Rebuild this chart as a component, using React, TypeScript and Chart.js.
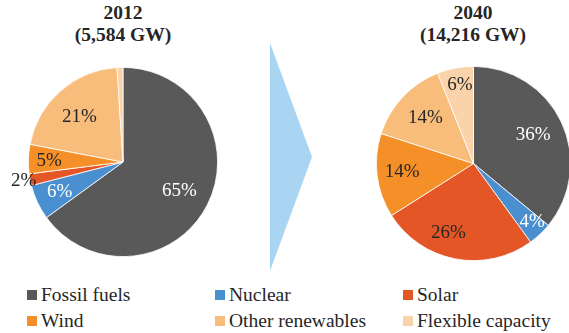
import React, { useEffect, useRef } from "react";
import { Chart, registerables } from "chart.js";

Chart.register(...registerables);

// Capacity mix by source, shares in percent
const categories = ["Fossil fuels", "Nuclear", "Solar", "Wind", "Other renewables", "Flexible capacity"];
const colors = ["#595959", "#4a8fd0", "#e55627", "#f59028", "#f8bc7b", "#fad3ab"];
const mix2012 = [65, 6, 2, 5, 21, 1];
const mix2040 = [36, 4, 26, 14, 14, 6];
const titles2012 = ["2012", "(5,584 GW)"];
const titles2040 = ["2040", "(14,216 GW)"];

// per-slice label placement: [radius fraction, angle shift in degrees, colour] (null = no label)
type LabelSpec = [number, number, string] | null;
const labels2012: LabelSpec[] = [
  [0.67, 0, "#ffffff"],
  [0.74, 0, "#ffffff"],
  [1.07, 0, "#262626"],
  [0.78, -1, "#262626"],
  [0.66, -3, "#262626"],
  null,
];
const labels2040: LabelSpec[] = [
  [0.68, 0, "#ffffff"],
  [0.85, -2, "#ffffff"],
  [0.76, 9, "#262626"],
  [0.74, 0, "#262626"],
  [0.68, 0, "#262626"],
  [0.82, 1, "#262626"],
];

const SERIF = "'Liberation Serif', 'Times New Roman', serif";
const PAD = 20;

function PieChart({ values, specs, cx, cy, size }: { values: number[]; specs: LabelSpec[]; cx: number; cy: number; size: number }) {
  const ref = useRef<HTMLCanvasElement | null>(null);
  const full = size + PAD * 2;
  useEffect(() => {
    if (!ref.current) return;
    const labelPlugin = {
      id: "sliceLabels",
      afterDatasetsDraw(chart: any) {
        const ctx = chart.ctx;
        const meta = chart.getDatasetMeta(0);
        ctx.save();
        ctx.font = `19px ${SERIF}`;
        ctx.textAlign = "center";
        ctx.textBaseline = "middle";
        meta.data.forEach((arc: any, i: number) => {
          const spec = specs[i];
          if (!spec) return;
          const [frac, shift, color] = spec;
          const mid = (arc.startAngle + arc.endAngle) / 2 + (shift * Math.PI) / 180;
          const r = arc.outerRadius * frac;
          ctx.fillStyle = color;
          ctx.fillText(`${values[i]}%`, arc.x + Math.cos(mid) * r, arc.y + Math.sin(mid) * r);
        });
        ctx.restore();
      },
    };
    const chart = new Chart(ref.current, {
      type: "pie",
      data: {
        labels: categories,
        datasets: [
          {
            data: values,
            backgroundColor: colors,
            borderColor: "#ffffff",
            borderWidth: 0.8,
          },
        ],
      },
      options: {
        animation: false,
        responsive: false,
        maintainAspectRatio: false,
        layout: { padding: PAD },
        plugins: { legend: { display: false }, tooltip: { enabled: false } },
      },
      plugins: [labelPlugin],
    });
    return () => chart.destroy();
  }, []);
  return (
    <canvas
      ref={ref}
      width={full}
      height={full}
      style={{ position: "absolute", left: cx - full / 2, top: cy - full / 2, width: full, height: full }}
    />
  );
}

function Title({ lines, cx }: { lines: string[]; cx: number }) {
  return (
    <div
      style={{
        position: "absolute",
        left: cx - 100,
        top: 2,
        width: 200,
        textAlign: "center",
        fontFamily: SERIF,
        fontWeight: "bold",
        fontSize: 19.5,
        lineHeight: "22px",
        color: "#262626",
      }}
    >
      {lines.map((l) => (
        <div key={l}>{l}</div>
      ))}
    </div>
  );
}

const legendCols = [27, 215, 403];
const legendRows = [295, 321];

export default function App() {
  return (
    <div style={{ position: "fixed", left: 0, top: 0, width: 569, height: 333, background: "#ffffff", overflow: "hidden" }}>
      <Title lines={titles2012} cx={123} />
      <Title lines={titles2040} cx={473} />
      <svg style={{ position: "absolute", left: 0, top: 0 }} width={569} height={333}>
        <polygon points="270,43 312,157 270,271" fill="#a9d5f2" />
      </svg>
      <PieChart values={mix2012} specs={labels2012} cx={123} cy={162} size={190} />
      <PieChart values={mix2040} specs={labels2040} cx={473.5} cy={163.5} size={195} />
      {categories.map((c, i) => {
        const x = legendCols[i % 3];
        const y = legendRows[Math.floor(i / 3)];
        return (
          <div key={c}>
            <div style={{ position: "absolute", left: x, top: y - 5, width: 10, height: 10, background: colors[i] }} />
            <div
              style={{
                position: "absolute",
                left: x + 14,
                top: y - 11,
                height: 22,
                lineHeight: "22px",
                fontFamily: SERIF,
                fontSize: 19.5,
                color: "#262626",
                whiteSpace: "nowrap",
              }}
            >
              {c}
            </div>
          </div>
        );
      })}
    </div>
  );
}
